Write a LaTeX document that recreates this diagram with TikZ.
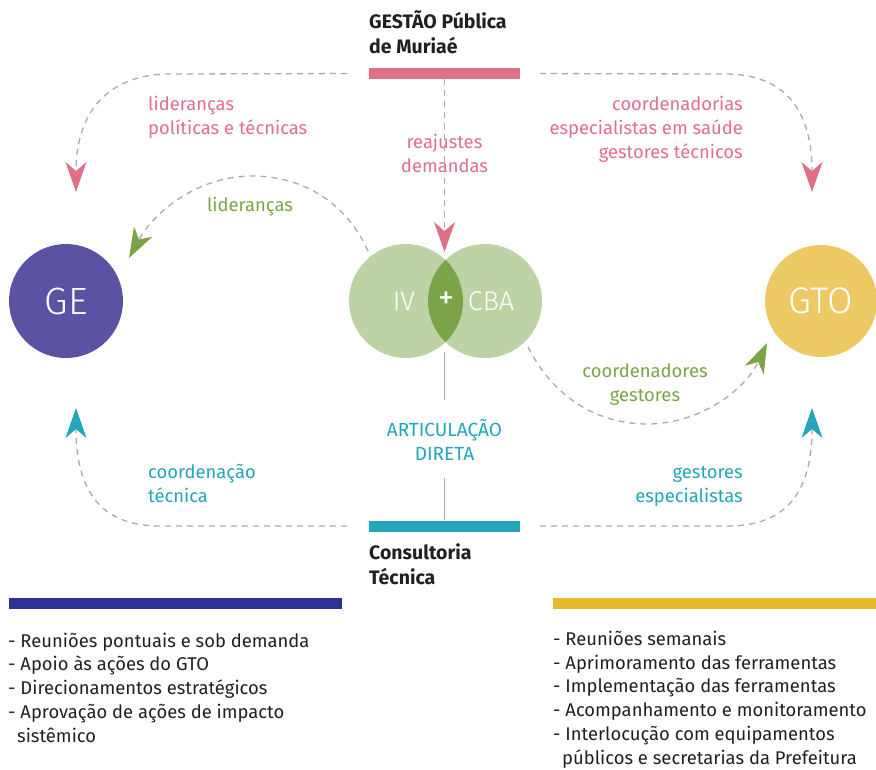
\documentclass[tikz,border=0pt]{standalone}
\usepackage{fontspec}
\setmainfont{Fira Sans}
\IfFontExistsTF{Fira Sans Light}{\newfontfamily\leve{Fira Sans Light}}{\newfontfamily\leve{Fira Sans}}
\usetikzlibrary{positioning,arrows.meta}

\definecolor{rosa}{HTML}{E07088}
\definecolor{roxo}{HTML}{5B52A3}
\definecolor{amarelo}{HTML}{EDC964}
\definecolor{verdeclaro}{HTML}{BDD3A5}
\definecolor{verde}{HTML}{7BA448}
\definecolor{azul}{HTML}{22A6B8}
\definecolor{marinho}{HTML}{2E3192}
\definecolor{ouro}{HTML}{E8BA30}
\definecolor{cinza}{HTML}{AAAAAA}
\definecolor{texto}{HTML}{231F20}

\tikzset{
  barra/.style={rectangle, inner sep=0pt, minimum height=11pt},
  bola/.style={circle, inner sep=0pt, text=white},
  rotulo/.style={inner sep=0pt, font=\fontsize{18.4}{24}\selectfont},
  titulo/.style={inner sep=0pt, align=left, text=texto, font=\fontsize{19.5}{24.5}\selectfont\bfseries},
  lista/.style={inner sep=0pt, align=left, text=texto, font=\fontsize{18.4}{23.7}\selectfont},
  fluxo/.style={draw=cinza, line width=1.3pt, dash pattern=on 6pt off 5pt},
  ponta/.style={-{Stealth[length=30pt, width=21pt, inset=9pt, color=#1]}}
}

\begin{document}
\begin{tikzpicture}[x=1pt, y=-1pt]
    \useasboundingbox (0,0) rectangle (876,769);

    % barras
    \node[barra, fill=rosa, minimum width=151pt] (gestao) at (444.5,73.5) {};
    \node[barra, fill=azul, minimum width=151pt] (consultoria) at (444.5,526) {};
    \node[barra, fill=marinho, minimum width=333pt] (barraGE) at (175.5,603.5) {};
    \node[barra, fill=ouro, minimum width=323pt] (barraGTO) at (714.5,603.5) {};

    % titulos
    \node[titulo, anchor=base west] (tGestao) at (369,53) {GESTÃO Pública\\de Muriaé};
    \node[titulo, anchor=base west] (tConsultoria) at (369,584) {Consultoria\\Técnica};

    % circulos
    \node[bola, fill=roxo, minimum size=114pt, font=\leve\fontsize{38}{38}\selectfont] (ge) at (66,301) {GE};
    \node[bola, fill=amarelo, minimum size=112pt, font=\leve\fontsize{37}{37}\selectfont] (gto) at (821,301) {GTO};
    \node[bola, fill=verdeclaro, minimum size=114pt] (iv) at (406,301) {};
    \node[bola, fill=verdeclaro, minimum size=114pt] (cba) at (485,301) {};
    \begin{scope}
        \clip (iv.center) circle (57pt);
        \fill[verde] (cba.center) circle (57pt);
    \end{scope}
    \node[text=white, font=\leve\fontsize{27}{27}\selectfont] (tIV) at (404,301) {IV};
    \node[text=white, font=\fontsize{32}{32}\selectfont] (tMais) at (446,300) {+};
    \node[text=white, font=\leve\fontsize{27}{27}\selectfont] (tCBA) at (491,301) {CBA};

    % pontos livres
    \coordinate (geTopo) at (76,192);
    \coordinate (gtoTopo) at (812,192);
    \coordinate (geBase) at (76,408);
    \coordinate (gtoBase) at (812,408);
    \coordinate (vennTopo) at (444.5,252);
    \coordinate (vennBase) at (444.5,342);
    \coordinate (geLado) at (129,258);
    \coordinate (gtoLado) at (767,343);

    % rotulos
    \node[rotulo, text=rosa, align=left, anchor=base west] (lLiderancas) at (148,134) {lideranças\\políticas e técnicas};
    \node[rotulo, text=rosa, align=right, anchor=base east] (lCoord) at (743,158) {coordenadorias\\especialistas em saúde\\gestores técnicos};
    \node[rotulo, text=rosa, align=center, anchor=base] (lReajustes) at (444.5,172) {reajustes\\demandas};
    \node[rotulo, text=verde, anchor=base] (lLid) at (250,211) {lideranças};
    \node[rotulo, text=verde, align=center, anchor=base] (lGestores) at (645,401) {coordenadores\\gestores};
    \node[rotulo, text=azul, align=center, anchor=base, font=\fontsize{19}{24}\selectfont] (lArtic) at (444.5,460) {ARTICULAÇÃO\\DIRETA};
    \node[rotulo, text=azul, align=left, anchor=base west] (lTecnica) at (148,502) {coordenação\\técnica};
    \node[rotulo, text=azul, align=right, anchor=base east] (lEspec) at (743,502) {gestores\\especialistas};

    % conectores
    \draw[fluxo, ponta=rosa, shorten <=22pt] (gestao.west) -- (170,74) .. controls (110,74) and (76,110) .. (geTopo);
    \draw[fluxo, ponta=rosa, shorten <=20pt] (gestao.east) -- (725,74) .. controls (785,74) and (812,110) .. (gtoTopo);
    \draw[fluxo, ponta=rosa] (gestao.south) -- (vennTopo);
    \draw[fluxo, ponta=azul, shorten <=22pt] (consultoria.west) -- (160,526) .. controls (100,526) and (76,490) .. (geBase);
    \draw[fluxo, ponta=azul, shorten <=20pt] (consultoria.east) -- (728,526) .. controls (788,526) and (812,490) .. (gtoBase);
    \draw[fluxo, ponta=verde] (368,251) .. controls (345,200) and (300,176) .. (252,176) .. controls (200,176) and (155,210) .. (geLado);
    \draw[fluxo, ponta=verde] (528,347) .. controls (555,400) and (600,424) .. (647,424) .. controls (700,424) and (745,390) .. (gtoLado);
    \draw[cinza, line width=1.3pt, shorten <=10pt] (vennBase) -- (444.5,400);
    \draw[cinza, line width=1.3pt] (444.5,478) -- (consultoria.north);

    % listas
    \node[lista, anchor=base west] (listaGE) at (8,742) {- Reuniões pontuais e sob demanda\\- Apoio às ações do GTO\\- Direcionamentos estratégicos\\- Aprovação de ações de impacto\\\hspace*{9pt}sistêmico};
    \node[lista, anchor=base west] (listaGTO) at (553,764) {- Reuniões semanais\\- Aprimoramento das ferramentas\\- Implementação das ferramentas\\- Acompanhamento e monitoramento\\- Interlocução com equipamentos\\\hspace*{9pt}públicos e secretarias da Prefeitura};
\end{tikzpicture}
\end{document}
